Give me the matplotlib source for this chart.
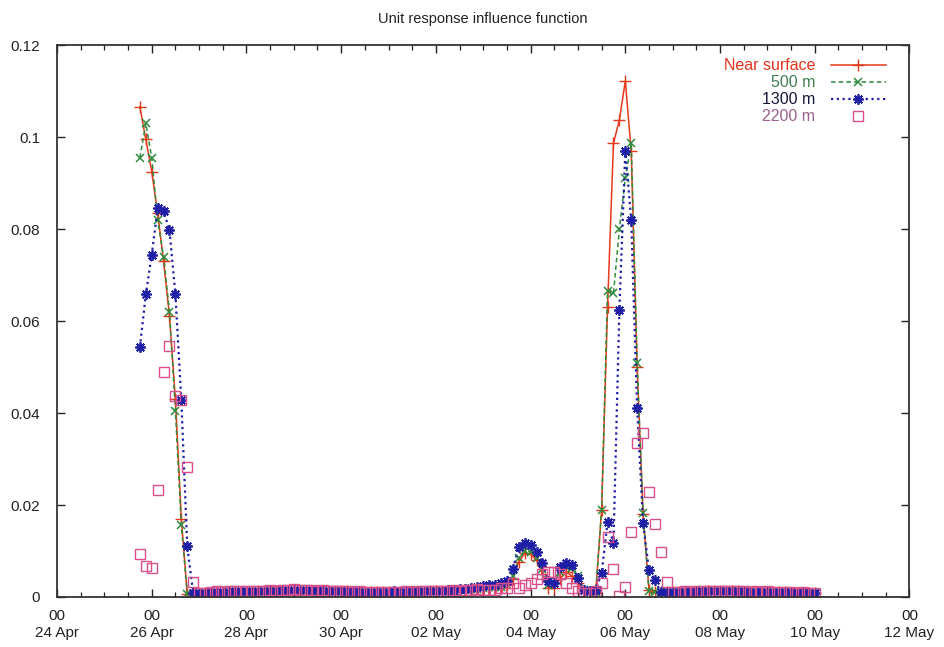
import numpy as np
import matplotlib.pyplot as plt
import matplotlib.dates as mdates

plt.rcParams['font.family'] = ['Liberation Sans', 'DejaVu Sans']

title = "Unit response influence function"
labels = ["Near surface", "500 m", "1300 m", "2200 m"]

# samples every 3 hours starting 25 Apr 18:00
start = np.datetime64("2003-04-25T18:00")
step_hours = 3

near_surface = [
    0.1066, 0.0995, 0.0925, 0.0835, 0.0730, 0.0610, 0.0430, 0.0170, 0.0007, 0.0006, 0.0008,
    0.0008, 0.0009, 0.0009, 0.0010, 0.0010, 0.0010, 0.0011, 0.0011, 0.0011, 0.0012,
    0.0012, 0.0012, 0.0012, 0.0013, 0.0013, 0.0013, 0.0013, 0.0014, 0.0014, 0.0014,
    0.0014, 0.0013, 0.0013, 0.0012, 0.0012, 0.0011, 0.0011, 0.0011, 0.0010, 0.0010,
    0.0010, 0.0010, 0.0010, 0.0010, 0.0010, 0.0011, 0.0011, 0.0011, 0.0012, 0.0012,
    0.0013, 0.0013, 0.0014, 0.0015, 0.0016, 0.0017, 0.0018, 0.0019, 0.0020,
    0.0020, 0.0020, 0.0025, 0.0040, 0.0076, 0.0095, 0.0093, 0.0080, 0.0050, 0.0020,
    0.0020, 0.0040, 0.0055, 0.0045, 0.0030, 0.0012, 0.0010,
    0.0010, 0.0190, 0.0630, 0.0987, 0.1037, 0.1122, 0.0970, 0.0500, 0.0180, 0.0015,
    0.0010, 0.0010, 0.0010, 0.0010,
    0.0010, 0.0010, 0.0011, 0.0011, 0.0011, 0.0012, 0.0012, 0.0012, 0.0012, 0.0012,
    0.0012, 0.0011, 0.0011, 0.0011, 0.0011, 0.0010, 0.0010, 0.0010, 0.0010, 0.0009,
    0.0009, 0.0009, 0.0008, 0.0008,
]

depth_500 = [
    0.0955, 0.1030, 0.0955, 0.0820, 0.0740, 0.0620, 0.0405, 0.0156, 0.0007, 0.0006, 0.0008,
    0.0008, 0.0009, 0.0009, 0.0009, 0.0010, 0.0010, 0.0010, 0.0011, 0.0011, 0.0011,
    0.0012, 0.0012, 0.0012, 0.0013, 0.0013, 0.0013, 0.0014, 0.0014, 0.0014, 0.0014,
    0.0013, 0.0013, 0.0012, 0.0012, 0.0012, 0.0011, 0.0011, 0.0010, 0.0010, 0.0010,
    0.0010, 0.0010, 0.0010, 0.0010, 0.0011, 0.0011, 0.0011, 0.0012, 0.0012, 0.0013,
    0.0013, 0.0014, 0.0014, 0.0015, 0.0016, 0.0017, 0.0018, 0.0020, 0.0021,
    0.0021, 0.0022, 0.0025, 0.0045, 0.0085, 0.0100, 0.0098, 0.0085, 0.0060, 0.0025,
    0.0030, 0.0055, 0.0065, 0.0062, 0.0045, 0.0015, 0.0010,
    0.0010, 0.0190, 0.0666, 0.0660, 0.0800, 0.0910, 0.0987, 0.0508, 0.0182, 0.0012,
    0.0010, 0.0010, 0.0010, 0.0010,
    0.0010, 0.0010, 0.0011, 0.0011, 0.0012, 0.0012, 0.0012, 0.0013, 0.0013, 0.0012,
    0.0012, 0.0012, 0.0011, 0.0011, 0.0011, 0.0011, 0.0010, 0.0010, 0.0010, 0.0010,
    0.0009, 0.0009, 0.0009, 0.0008,
]

depth_1300 = [
    0.0543, 0.0658, 0.0744, 0.0845, 0.0840, 0.0797, 0.0658, 0.0428, 0.0110, 0.0009, 0.0008,
    0.0008, 0.0010, 0.0009, 0.0011, 0.0010, 0.0012, 0.0011, 0.0012, 0.0011, 0.0013,
    0.0012, 0.0014, 0.0013, 0.0015, 0.0014, 0.0016, 0.0015, 0.0016, 0.0014, 0.0015,
    0.0013, 0.0014, 0.0012, 0.0013, 0.0011, 0.0012, 0.0010, 0.0011, 0.0010, 0.0009,
    0.0011, 0.0010, 0.0012, 0.0011, 0.0010, 0.0012, 0.0011, 0.0013, 0.0012, 0.0014,
    0.0013, 0.0015, 0.0014, 0.0017, 0.0018, 0.0020, 0.0022, 0.0024, 0.0025,
    0.0025, 0.0030, 0.0035, 0.0060, 0.0108, 0.0117, 0.0112, 0.0098, 0.0074, 0.0035,
    0.0030, 0.0065, 0.0074, 0.0069, 0.0041, 0.0015, 0.0012,
    0.0015, 0.0052, 0.0163, 0.0117, 0.0625, 0.0970, 0.0820, 0.0410, 0.0160, 0.0059,
    0.0037, 0.0010, 0.0010, 0.0010,
    0.0010, 0.0011, 0.0010, 0.0012, 0.0011, 0.0012, 0.0013, 0.0012, 0.0013, 0.0012,
    0.0011, 0.0012, 0.0011, 0.0010, 0.0011, 0.0010, 0.0011, 0.0010, 0.0009, 0.0010,
    0.0009, 0.0010, 0.0009, 0.0008,
]

depth_2200 = [
    0.0093, 0.0068, 0.0063, 0.0232, 0.0490, 0.0545, 0.0436, 0.0428, 0.0282, 0.0033, 0.0008,
    0.0009, 0.0011, 0.0012, 0.0011, 0.0013, 0.0012, 0.0013, 0.0012, 0.0014, 0.0013,
    0.0014, 0.0015, 0.0014, 0.0016, 0.0015, 0.0017, 0.0016, 0.0015, 0.0016, 0.0014,
    0.0015, 0.0013, 0.0014, 0.0012, 0.0013, 0.0011, 0.0012, 0.0011, 0.0010, 0.0011,
    0.0010, 0.0011, 0.0010, 0.0011, 0.0012, 0.0011, 0.0012, 0.0013, 0.0012, 0.0013,
    0.0014, 0.0013, 0.0015, 0.0014, 0.0016, 0.0015, 0.0017, 0.0016, 0.0015,
    0.0015, 0.0020, 0.0020, 0.0030, 0.0020, 0.0025, 0.0030, 0.0040, 0.0050, 0.0055,
    0.0055, 0.0050, 0.0030, 0.0020, 0.0012, 0.0008, 0.0008,
    0.0012, 0.0030, 0.0130, 0.0060, 0.0002, 0.0022, 0.0141, 0.0334, 0.0356, 0.0228,
    0.0158, 0.0098, 0.0033, 0.0010,
    0.0011, 0.0012, 0.0011, 0.0012, 0.0013, 0.0012, 0.0013, 0.0014, 0.0013, 0.0012,
    0.0013, 0.0012, 0.0011, 0.0012, 0.0011, 0.0012, 0.0011, 0.0010, 0.0011, 0.0010,
    0.0009, 0.0010, 0.0009, 0.0008,
]

times = start + np.arange(len(near_surface)) * np.timedelta64(step_hours, "h")

fig = plt.figure(figsize=(9.44, 6.47), dpi=100)
ax = fig.add_axes([0.0604, 0.0773, 0.903, 0.853])

l1, = ax.plot(times, near_surface, color="#e8381a", lw=1.1, marker="+", ms=8, mew=1.0)
l2, = ax.plot(times, depth_500, color="#2f8a3c", lw=1.1, ls=(0, (3, 2)), marker="x", ms=6, mew=1.1)
l3, = ax.plot(times, depth_1300, color="#1e1ea6", lw=1.6, ls=(0, (1, 1.6)), marker=(8, 2, 0), ms=7.5, mew=1.3)
l4, = ax.plot(times, depth_2200, color="#d9508c", ls="none", marker="s", ms=7, mew=1.0, mfc="none")

ax.set_xlim(np.datetime64("2003-04-24T00:00"), np.datetime64("2003-05-12T00:00"))
ax.set_ylim(0, 0.12)
ax.set_yticks([0, 0.02, 0.04, 0.06, 0.08, 0.1, 0.12])
ax.set_yticklabels(["0", "0.02", "0.04", "0.06", "0.08", "0.1", "0.12"])

major_days = np.arange(np.datetime64("2003-04-24"), np.datetime64("2003-05-13"), np.timedelta64(2, "D"))
ax.set_xticks(major_days)
ax.xaxis.set_major_formatter(mdates.DateFormatter("%H\n%d %b"))
ax.xaxis.set_minor_locator(mdates.HourLocator(byhour=[0, 12]))

ax.tick_params(which="both", direction="in", top=True, right=True, labelsize=11, colors="#222222")
ax.tick_params(which="major", length=6, width=1.0, pad=9)
ax.tick_params(which="minor", length=3.5, width=0.9)
ax.tick_params(axis="y", pad=12)
for s in ax.spines.values():
    s.set_linewidth(1.3)
    s.set_color("#333333")

ax.set_title(title, fontsize=10.5, pad=16, color="#222222")

leg = ax.legend([l1, l2, l3, l4], labels, loc="upper right", markerfirst=False, frameon=False,
                fontsize=11.5, handlelength=3.4, handletextpad=1.0, labelspacing=0.12,
                borderpad=0, borderaxespad=0, bbox_to_anchor=(0.972, 0.976))
for txt, c in zip(leg.get_texts(), ["#e3341c", "#3f7f4f", "#15153a", "#9a5f8a"]):
    txt.set_color(c)

fig.savefig("out.png", dpi=100)
